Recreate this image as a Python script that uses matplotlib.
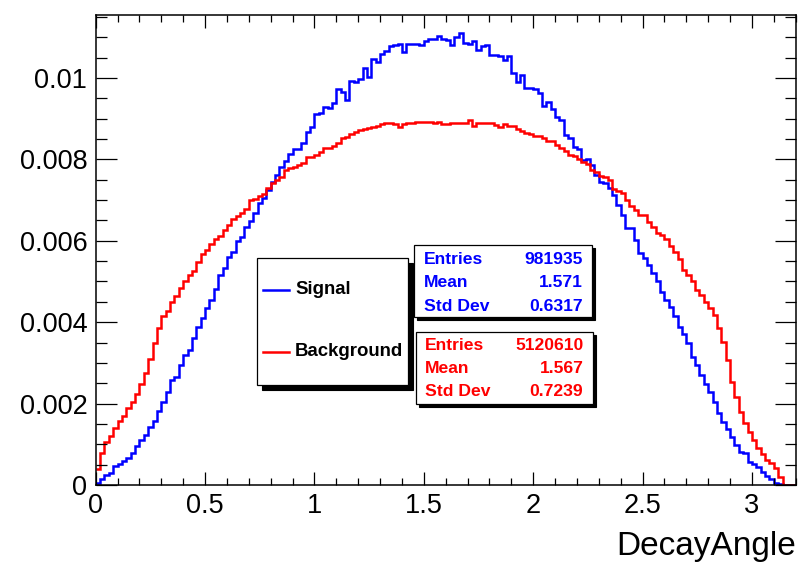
import numpy as np
import matplotlib
matplotlib.use("Agg")
import matplotlib.pyplot as plt
from matplotlib.patches import Rectangle
from matplotlib.ticker import MultipleLocator, FuncFormatter

plt.rcParams['font.family'] = ['Liberation Sans', 'DejaVu Sans']

# ---------------- data (normalised histogram contents, 160 bins on [0, 3.2]) -------------
x_min, x_max, n_bins = 0.0, 3.2, 160

signal = [
    0.00004, 0.00014, 0.00024, 0.00030, 0.00047, 0.00051, 0.00060, 0.00067, 0.00078, 0.00096,
    0.00110, 0.00123, 0.00142, 0.00157, 0.00181, 0.00204, 0.00229, 0.00259, 0.00265, 0.00296,
    0.00319, 0.00332, 0.00361, 0.00387, 0.00411, 0.00435, 0.00455, 0.00481, 0.00516, 0.00532,
    0.00561, 0.00573, 0.00600, 0.00610, 0.00635, 0.00649, 0.00669, 0.00694, 0.00704, 0.00725,
    0.00745, 0.00762, 0.00782, 0.00797, 0.00813, 0.00825, 0.00826, 0.00841, 0.00868, 0.00880,
    0.00911, 0.00913, 0.00928, 0.00926, 0.00938, 0.00972, 0.00966, 0.00946, 0.00993, 0.00990,
    0.00998, 0.01024, 0.01002, 0.01047, 0.01040, 0.01058, 0.01066, 0.01079, 0.01080, 0.01084,
    0.01065, 0.01084, 0.01084, 0.01084, 0.01081, 0.01092, 0.01096, 0.01097, 0.01104, 0.01095,
    0.01093, 0.01081, 0.01100, 0.01111, 0.01085, 0.01084, 0.01092, 0.01070, 0.01079, 0.01082,
    0.01057, 0.01057, 0.01054, 0.01043, 0.01054, 0.01012, 0.00991, 0.01007, 0.00975, 0.00976,
    0.00972, 0.00964, 0.00930, 0.00942, 0.00925, 0.00905, 0.00897, 0.00860, 0.00852, 0.00831,
    0.00825, 0.00799, 0.00800, 0.00786, 0.00762, 0.00745, 0.00741, 0.00729, 0.00713, 0.00688,
    0.00663, 0.00631, 0.00631, 0.00602, 0.00569, 0.00557, 0.00541, 0.00520, 0.00500, 0.00475,
    0.00455, 0.00438, 0.00414, 0.00389, 0.00371, 0.00350, 0.00315, 0.00295, 0.00270, 0.00248,
    0.00229, 0.00203, 0.00176, 0.00154, 0.00137, 0.00119, 0.00098, 0.00082, 0.00078, 0.00057,
    0.00051, 0.00045, 0.00033, 0.00022, 0.00014, 0.00006, 0.00002, 0.0, 0.0, 0.0,
]

background = [
    0.00040, 0.00078, 0.00106, 0.00120, 0.00140, 0.00158, 0.00169, 0.00188, 0.00204, 0.00223,
    0.00248, 0.00276, 0.00310, 0.00349, 0.00385, 0.00414, 0.00428, 0.00449, 0.00465, 0.00483,
    0.00501, 0.00516, 0.00527, 0.00549, 0.00567, 0.00577, 0.00591, 0.00604, 0.00612, 0.00627,
    0.00640, 0.00653, 0.00661, 0.00669, 0.00677, 0.00700, 0.00702, 0.00710, 0.00714, 0.00729,
    0.00741, 0.00749, 0.00757, 0.00774, 0.00778, 0.00781, 0.00786, 0.00792, 0.00805, 0.00807,
    0.00810, 0.00819, 0.00827, 0.00827, 0.00833, 0.00841, 0.00852, 0.00854, 0.00862, 0.00868,
    0.00872, 0.00874, 0.00876, 0.00879, 0.00882, 0.00887, 0.00889, 0.00889, 0.00887, 0.00879,
    0.00886, 0.00889, 0.00890, 0.00891, 0.00891, 0.00891, 0.00891, 0.00890, 0.00891, 0.00887,
    0.00887, 0.00889, 0.00890, 0.00890, 0.00889, 0.00898, 0.00882, 0.00889, 0.00889, 0.00890,
    0.00890, 0.00885, 0.00879, 0.00887, 0.00882, 0.00882, 0.00874, 0.00870, 0.00866, 0.00862,
    0.00857, 0.00857, 0.00852, 0.00844, 0.00844, 0.00835, 0.00827, 0.00821, 0.00811, 0.00808,
    0.00800, 0.00794, 0.00789, 0.00774, 0.00770, 0.00759, 0.00756, 0.00749, 0.00727, 0.00723,
    0.00718, 0.00700, 0.00686, 0.00676, 0.00663, 0.00663, 0.00647, 0.00635, 0.00620, 0.00614,
    0.00604, 0.00586, 0.00573, 0.00556, 0.00528, 0.00516, 0.00500, 0.00479, 0.00467, 0.00450,
    0.00434, 0.00418, 0.00385, 0.00352, 0.00307, 0.00254, 0.00217, 0.00180, 0.00153, 0.00131,
    0.00111, 0.00090, 0.00076, 0.00061, 0.00055, 0.00041, 0.00020, 0.0, 0.0, 0.0,
]

series_names = ["Signal", "Background"]
stat_labels = ["Entries", "Mean", "Std Dev"]
signal_stats = ["981935", "1.571", "0.6317"]
background_stats = ["5120610", "1.567", "0.7239"]
x_title = "DecayAngle"

# ---------------- figure ----------------
W, H = 804, 564
fig = plt.figure(figsize=(W / 100, H / 100), dpi=100)


def fx(px):
    return px / W


def fy(py):
    return 1 - py / H


ax_l, ax_r, ax_t, ax_b = 95.7, 795.7, 14.5, 485.0
ax = fig.add_axes([fx(ax_l), fy(ax_b), (ax_r - ax_l) / W, (ax_b - ax_t) / H])

edges = np.linspace(x_min, x_max, n_bins + 1)
BLUE, RED = "#0000ff", "#ff0000"
ax.stairs(signal, edges, color=BLUE, lw=1.8, baseline=None)
ax.stairs(background, edges, color=RED, lw=1.8, baseline=None)

ax.set_xlim(x_min, x_max)
ax.set_ylim(0, 0.01156)

fmt = FuncFormatter(lambda v, p: "%g" % round(v, 6))
ax.xaxis.set_major_locator(MultipleLocator(0.5))
ax.xaxis.set_minor_locator(MultipleLocator(0.1))
ax.yaxis.set_major_locator(MultipleLocator(0.002))
ax.yaxis.set_minor_locator(MultipleLocator(0.0005))
ax.xaxis.set_major_formatter(fmt)
ax.yaxis.set_major_formatter(fmt)

ax.tick_params(which='both', direction='in', top=True, right=True, width=0.9, labelsize=19.5)
ax.tick_params(axis='x', which='major', length=9.5, pad=6)
ax.tick_params(axis='x', which='minor', length=5)
ax.tick_params(axis='y', which='major', length=15, pad=6)
ax.tick_params(axis='y', which='minor', length=7.7)
for s in ax.spines.values():
    s.set_linewidth(1.1)

fig.text(fx(796), fy(547), x_title, ha='right', va='center', fontsize=24)


# ---------------- boxes ----------------
def box(x0, y0, x1, y1, shadow):
    fig.add_artist(Rectangle((fx(x0 + shadow), fy(y1 + shadow)), (x1 - x0) / W, (y1 - y0) / H,
                             transform=fig.transFigure, facecolor='black', edgecolor='black',
                             lw=0.8, zorder=5))
    fig.add_artist(Rectangle((fx(x0), fy(y1)), (x1 - x0) / W, (y1 - y0) / H,
                             transform=fig.transFigure, facecolor='white', edgecolor='black',
                             lw=0.9, zorder=6))


# legend
box(257.3, 258.3, 408.3, 385.0, 5)
for name, col, yy in zip(series_names, [BLUE, RED], [290.0, 351.7]):
    fig.add_artist(plt.Line2D([fx(263.5), fx(289.5)], [fy(yy), fy(yy)], transform=fig.transFigure,
                              color=col, lw=1.8, zorder=7))
    fig.text(fx(295), fy(yy), name, ha='left', va='center', fontsize=13.4,
             fontweight='bold', zorder=8)

# stats boxes
stat_boxes = [
    (signal_stats, BLUE, (414.3, 245.0, 592.3, 317.3), [259.3, 282.7, 306.7], 424, 582.7),
    (background_stats, RED, (415.7, 331.7, 593.3, 404.0), [345.0, 368.3, 391.7], 425, 583.3),
]
for vals, col, (x0, y0, x1, y1), rows, lx, rx in stat_boxes:
    box(x0, y0, x1, y1, 3)
    for lab, val, yy in zip(stat_labels, vals, rows):
        fig.text(fx(lx), fy(yy), lab, ha='left', va='center', fontsize=12.6,
                 fontweight='bold', color=col, zorder=8)
        fig.text(fx(rx), fy(yy), val, ha='right', va='center', fontsize=12.6,
                 fontweight='bold', color=col, zorder=8)

fig.savefig("out.png", dpi=100)
